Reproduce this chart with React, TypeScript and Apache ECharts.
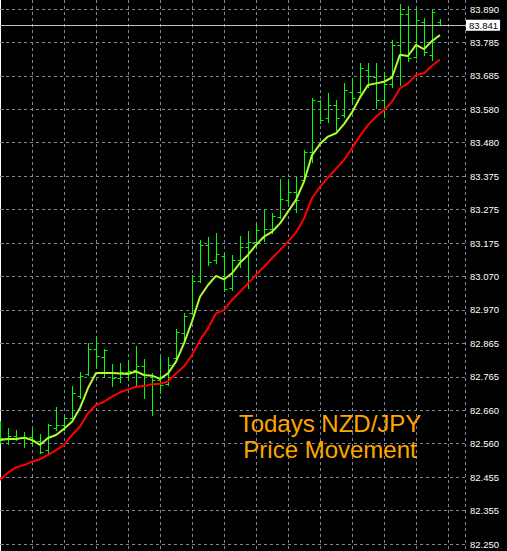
import React, { useEffect, useRef } from "react";
import * as echarts from "echarts";

// ---- data ----
const opens = [
  82.569, 82.575, 82.581, 82.575, 82.578, 82.566, 82.538, 82.606, 82.615, 82.636,
  82.704, 82.771, 82.848, 82.823, 82.774, 82.759, 82.777, 82.783, 82.796, 82.768,
  82.753, 82.741, 82.820, 82.897, 82.958, 83.056, 83.167, 83.121, 83.133, 83.035,
  83.121, 83.160, 83.176, 83.188, 83.216, 83.252, 83.305, 83.329, 83.366, 83.452,
  83.608, 83.556, 83.596, 83.565, 83.636, 83.636, 83.703, 83.682, 83.611, 83.660,
  83.780, 83.875, 83.744, 83.850, 83.749, 83.850,
];
const closes = [
  82.575, 82.581, 82.575, 82.578, 82.566, 82.532, 82.615, 82.615, 82.636, 82.713,
  82.765, 82.848, 82.826, 82.845, 82.759, 82.777, 82.780, 82.796, 82.768, 82.753,
  82.737, 82.799, 82.900, 82.949, 83.056, 83.167, 83.115, 83.139, 83.032, 83.121,
  83.160, 83.176, 83.213, 83.216, 83.256, 83.308, 83.329, 83.305, 83.452, 83.611,
  83.550, 83.596, 83.556, 83.642, 83.617, 83.709, 83.685, 83.611, 83.660, 83.780,
  83.875, 83.740, 83.856, 83.758, 83.881, 83.841,
];
const lows = [
  82.560, 82.557, 82.569, 82.547, 82.554, 82.529, 82.529, 82.600, 82.600, 82.636,
  82.698, 82.768, 82.793, 82.762, 82.734, 82.747, 82.753, 82.737, 82.698, 82.646,
  82.713, 82.737, 82.820, 82.866, 82.958, 83.053, 83.105, 83.111, 83.026, 83.029,
  83.099, 83.035, 83.160, 83.179, 83.203, 83.249, 83.295, 83.268, 83.363, 83.421,
  83.541, 83.544, 83.519, 83.559, 83.602, 83.633, 83.651, 83.587, 83.559, 83.651,
  83.657, 83.731, 83.740, 83.749, 83.734, 83.841,
];
const highs = [
  82.627, 82.606, 82.600, 82.593, 82.603, 82.587, 82.618, 82.670, 82.639, 82.734,
  82.777, 82.866, 82.885, 82.848, 82.802, 82.805, 82.814, 82.857, 82.817, 82.774,
  82.823, 82.823, 82.909, 82.958, 83.075, 83.182, 83.191, 83.203, 83.142, 83.136,
  83.194, 83.209, 83.231, 83.274, 83.265, 83.369, 83.369, 83.375, 83.458, 83.617,
  83.611, 83.633, 83.611, 83.663, 83.678, 83.725, 83.725, 83.725, 83.697, 83.795,
  83.905, 83.899, 83.893, 83.862, 83.887, 83.859,
];
const fastMA = [
  82.569, 82.572, 82.572, 82.576, 82.569, 82.554, 82.575, 82.584, 82.603, 82.625,
  82.667, 82.728, 82.774, 82.774, 82.774, 82.773, 82.771, 82.779, 82.768, 82.766,
  82.756, 82.773, 82.809, 82.865, 82.932, 83.008, 83.044, 83.072, 83.061, 83.080,
  83.112, 83.136, 83.167, 83.192, 83.207, 83.233, 83.269, 83.305, 83.361, 83.442,
  83.476, 83.499, 83.509, 83.537, 83.573, 83.619, 83.657, 83.662, 83.667, 83.680,
  83.750, 83.746, 83.780, 83.767, 83.792, 83.810,
];
const slowMA = [
  82.446, 82.469, 82.485, 82.492, 82.502, 82.510, 82.523, 82.538, 82.554, 82.584,
  82.610, 82.651, 82.676, 82.686, 82.702, 82.715, 82.724, 82.732, 82.734, 82.740,
  82.741, 82.748, 82.773, 82.794, 82.829, 82.875, 82.911, 82.957, 82.967, 82.998,
  83.023, 83.049, 83.075, 83.100, 83.126, 83.151, 83.177, 83.205, 83.248, 83.310,
  83.345, 83.373, 83.400, 83.427, 83.463, 83.501, 83.534, 83.560, 83.580, 83.606,
  83.647, 83.662, 83.688, 83.693, 83.716, 83.735,
];
const yTickLabels = [
  "82.250", "82.355", "82.455", "82.560", "82.660", "82.765", "82.865", "82.970",
  "83.070", "83.175", "83.275", "83.375", "83.480", "83.580", "83.685", "83.785", "83.890",
];
const yMin = 82.25;
const yMax = 83.89;
const yStep = 0.1025;
const lastPrice = 83.841;
const titleLines = ["Todays NZD/JPY", "Price Movement"];

const X_MAX = 58.125;
const GRID_COLOR = "#778899";

export default function App() {
  const ref = useRef<HTMLDivElement>(null);
  useEffect(() => {
    if (!ref.current) return;
    const chart = echarts.init(ref.current, undefined, { renderer: "svg" });
    const barData = opens.map((o, i) => [i, o, closes[i], lows[i], highs[i]]);
    const fastData = fastMA.map((v, i) => [i, v]);
    const slowData = slowMA.map((v, i) => [i, v]);
    const option: any = {
      animation: false,
      backgroundColor: "#000000",
      grid: [
        { left: 0, right: 42, top: 0, bottom: 0, containLabel: false },
        { left: 0, right: 42, top: 9, bottom: 7, containLabel: false },
      ],
      xAxis: [
        {
          gridIndex: 0,
          type: "value",
          min: 0,
          max: X_MAX,
          interval: 4,
          axisLine: { show: false },
          axisTick: { show: false },
          axisLabel: { show: false },
          splitLine: { show: true, lineStyle: { color: GRID_COLOR, type: [3, 3], width: 1 } },
        },
        {
          gridIndex: 1,
          type: "value",
          min: 0,
          max: X_MAX,
          show: false,
          splitLine: { show: false },
        },
      ],
      yAxis: [
        {
          gridIndex: 0,
          type: "value",
          min: 0,
          max: 1,
          position: "right",
          axisLine: { show: true, lineStyle: { color: "#ffffff", width: 1 } },
          axisTick: { show: false },
          axisLabel: { show: false },
          splitLine: { show: false },
        },
        {
          gridIndex: 1,
          type: "value",
          min: yMin,
          max: yMax,
          interval: yStep,
          position: "right",
          axisLine: { show: false },
          axisTick: { show: true, length: 4, lineStyle: { color: GRID_COLOR } },
          axisLabel: {
            show: true,
            color: "#ffffff",
            fontFamily: "Liberation Sans",
            fontSize: 9.5,
            margin: 5,
            formatter: (v: number) => yTickLabels[Math.round((v - yMin) / yStep)] ?? "",
          },
          splitLine: { show: true, lineStyle: { color: GRID_COLOR, type: [3, 3], width: 1 } },
        },
      ],
      series: [
        {
          type: "custom",
          name: "bars",
          xAxisIndex: 1,
          yAxisIndex: 1,
          clip: false,
          data: barData,
          encode: { x: 0, y: [1, 2, 3, 4] },
          renderItem: (params: any, api: any) => {
            const i = api.value(0);
            const pO = api.coord([i, api.value(1)]);
            const pC = api.coord([i, api.value(2)]);
            const pL = api.coord([i, api.value(3)]);
            const pH = api.coord([i, api.value(4)]);
            const px = Math.round(pO[0]) + 0.5;
            const yO = Math.round(pO[1]) + 0.5;
            const yC = Math.round(pC[1]) + 0.5;
            const style = { stroke: "#00ff00", lineWidth: 1 };
            return {
              type: "group",
              children: [
                { type: "line", shape: { x1: px, y1: Math.round(pH[1]), x2: px, y2: Math.round(pL[1]) + 1 }, style },
                { type: "line", shape: { x1: px - 3, y1: yO, x2: px, y2: yO }, style },
                { type: "line", shape: { x1: px, y1: yC, x2: px + 3, y2: yC }, style },
              ],
            };
          },
          z: 2,
        },
        {
          type: "line",
          name: "slow",
          xAxisIndex: 1,
          yAxisIndex: 1,
          data: slowData,
          clip: false,
          symbol: "none",
          lineStyle: { color: "#ff0000", width: 2 },
          z: 3,
        },
        {
          type: "line",
          name: "fast",
          xAxisIndex: 1,
          yAxisIndex: 1,
          data: fastData,
          clip: false,
          symbol: "none",
          lineStyle: { color: "#adff2f", width: 2 },
          z: 4,
          markLine: {
            silent: true,
            symbol: "none",
            lineStyle: { color: "#c0c0c0", type: "solid", width: 1 },
            label: {
              show: true,
              position: "end",
              distance: 1,
              formatter: () => lastPrice.toFixed(3),
              backgroundColor: "#ffffff",
              color: "#000000",
              fontFamily: "Liberation Sans",
              fontSize: 9.5,
              padding: [1, 2, 0, 3],
            },
            data: [{ yAxis: lastPrice }],
          },
        },
      ],
      graphic: [
        {
          type: "text",
          x: 330,
          y: 423,
          style: {
            text: titleLines[0],
            fill: "#ffa500",
            font: "24px 'Liberation Sans', Arial, sans-serif",
            textAlign: "center",
            textVerticalAlign: "middle",
          },
          z: 10,
        },
        {
          type: "text",
          x: 330,
          y: 449,
          style: {
            text: titleLines[1],
            fill: "#ffa500",
            font: "24px 'Liberation Sans', Arial, sans-serif",
            textAlign: "center",
            textVerticalAlign: "middle",
          },
          z: 10,
        },
      ],
    };
    chart.setOption(option);
    return () => chart.dispose();
  }, []);
  return (
    <div
      ref={ref}
      style={{ position: "fixed", left: 0, top: 0, width: 507, height: 551 }}
    />
  );
}
